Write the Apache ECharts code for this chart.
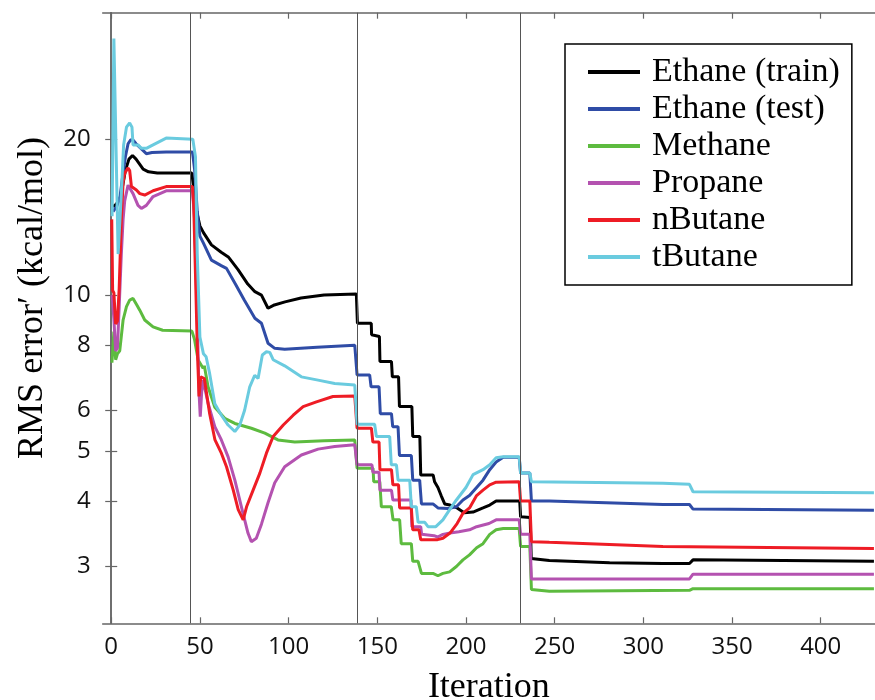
<!DOCTYPE html>
<html>
<head>
<meta charset="utf-8">
<script src="https://cdn.jsdelivr.net/npm/echarts@6/dist/echarts.min.js"></script>
<style>html,body{margin:0;padding:0;background:#fff;}#chart{width:875px;height:700px;}</style>
</head>
<body>
<div id="chart"></div>
<script>
const seriesNames = ['Ethane (train)', 'Ethane (test)', 'Methane', 'Propane', 'nButane', 'tButane'];
const seriesColors = ['#000000', '#2f4ca6', '#5dbb3f', '#b452b0', '#ee1c25', '#6acbdf'];
const xTicks = [0, 50, 100, 150, 200, 250, 300, 350, 400];
const yTicks = [3, 4, 5, 6, 8, 10, 20];
const phaseBoundaries = [44.8, 138.6, 230.6];

// [iteration, RMS error]
const ethaneTrain = [[1,14.8],[3,15.0],[5,15.4],[6.5,16.3],[8,17.4],[10,18.3],[12,18.6],[14,18.3],[16,17.9],[18,17.5],[21,17.3],[26,17.2],[45.5,17.2],[46.5,16.0],[48,14.6],[50,13.6],[52,13.2],[56.5,12.5],[62,12.1],[66,11.85],[71.5,11.2],[77,10.5],[81,10.15],[84.7,10.0],[88.4,9.43],[92,9.57],[98,9.7],[107,9.87],[120,10.0],[138.2,10.05],[138.8,8.82],[146.6,8.82],[146.8,8.38],[151.2,8.32],[151.5,7.44],[158,7.44],[158.5,6.95],[162,6.95],[162.5,6.09],[169.5,6.09],[170,5.33],[174,5.33],[174.5,4.49],[181.5,4.49],[182.3,4.36],[184.2,4.25],[186,4.1],[188,3.95],[191,3.93],[195,3.88],[199,3.8],[204,3.81],[209.6,3.88],[213.4,3.93],[217,4.0],[230.3,4.0],[230.8,3.73],[236.2,3.72],[236.8,3.10],[247,3.07],[281,3.04],[311,3.03],[326,3.03],[328,3.08],[430,3.06]];
const ethaneTest = [[1,14.5],[3,14.8],[5,15.5],[6.5,17.0],[8,18.5],[9.5,19.6],[11,19.95],[12.5,19.9],[14,19.6],[16,19.3],[19.8,18.75],[23,18.85],[31,18.9],[45.8,18.9],[47,17.5],[48.5,14.5],[50,13.0],[52,12.6],[56.5,11.68],[62,11.4],[65,11.26],[70,10.5],[75,9.78],[81,9.02],[84.7,8.82],[88.4,8.07],[92.2,7.89],[97.8,7.86],[116,7.93],[137.3,8.0],[138.6,7.01],[145.7,7.01],[146.5,6.65],[151,6.65],[151.7,5.9],[158,5.9],[158.7,5.57],[161.7,5.57],[162.5,4.9],[169.2,4.9],[170,4.39],[173.9,4.39],[174.9,3.95],[181.4,3.95],[184.2,3.88],[190,3.87],[194.6,3.9],[198.3,4.02],[202,4.1],[206,4.25],[209.6,4.39],[213.4,4.6],[217,4.76],[221,4.86],[230,4.86],[230.8,4.53],[236,4.53],[236.9,4.0],[247,4.0],[311,3.94],[326,3.94],[328,3.86],[430,3.84]];
const methane = [[0.4,7.4],[1.5,8.5],[2.5,7.5],[3.5,7.7],[4.8,7.8],[6.7,8.95],[8.6,9.5],[10.4,9.78],[12.3,9.85],[14.2,9.6],[16.1,9.35],[18.9,8.95],[23.6,8.68],[29,8.55],[45.5,8.52],[47,8.2],[49,7.49],[51.8,7.22],[52.5,7.3],[54.6,6.65],[58.4,6.07],[64,5.78],[69.7,5.65],[79,5.53],[86.6,5.41],[94,5.25],[103.5,5.2],[120,5.23],[137.3,5.25],[138.6,4.63],[147.6,4.63],[148,4.36],[151.4,4.36],[152.3,3.9],[157.9,3.9],[158.9,3.68],[162.6,3.68],[163.5,3.31],[169.2,3.31],[170,3.06],[173,3.06],[174.9,2.9],[181.4,2.9],[184.2,2.87],[187,2.9],[190.8,2.92],[194.6,2.99],[198.3,3.08],[202,3.15],[206,3.25],[209.6,3.31],[213.4,3.45],[217,3.52],[221,3.54],[230,3.54],[230.8,3.27],[236,3.27],[236.9,2.7],[247,2.68],[326,2.69],[328,2.71],[430,2.71]];
const propane = [[0.5,10.0],[1.5,9.0],[2.5,7.8],[3.5,7.9],[4.5,9.5],[5.7,12.0],[6.7,14.0],[7.6,15.2],[9.5,16.3],[10.4,16.4],[12.3,15.7],[15.1,14.9],[17,14.7],[19.8,14.9],[23.6,15.5],[31,15.9],[45.8,15.9],[47,14.0],[48.5,9.0],[49.5,6.5],[50.2,5.82],[51,6.5],[51.8,6.85],[54.6,6.18],[58.4,5.57],[62.1,5.25],[65.9,4.87],[69.7,4.39],[73.4,3.9],[77.1,3.47],[79,3.34],[81.8,3.39],[84.7,3.61],[88.4,3.97],[92.2,4.34],[97.8,4.66],[107.2,4.91],[116.6,5.04],[126,5.1],[137.3,5.14],[138.6,4.7],[147,4.7],[147.5,4.55],[151,4.55],[151.5,4.2],[158,4.2],[158.8,4.02],[169,4.02],[169.5,3.57],[174.5,3.57],[175,3.45],[182,3.43],[184,3.41],[187,3.45],[191,3.47],[196,3.49],[202,3.52],[206,3.57],[213,3.62],[217,3.68],[230,3.68],[230.8,3.45],[236,3.45],[236.9,2.83],[326,2.83],[328,2.89],[430,2.89]];
const nButane = [[0.3,14.0],[0.8,10.2],[1.5,10.1],[2.5,8.8],[3.5,8.9],[4.5,10.3],[5.7,14.0],[6.7,16.5],[7.6,17.2],[9.5,17.6],[10.4,17.4],[11.4,16.2],[14.2,15.95],[16.1,15.7],[18.9,15.6],[23.6,15.9],[31,16.2],[45.8,16.2],[46.5,15.0],[47.5,11.0],[48.5,8.0],[49.5,6.37],[50.5,6.95],[52.5,6.9],[55.5,5.9],[58.5,5.25],[62.1,4.95],[65,4.66],[68.8,4.2],[71.6,3.85],[74.4,3.68],[76.3,3.9],[80,4.2],[83.8,4.53],[87.5,4.95],[91.3,5.33],[97,5.61],[102.6,5.86],[108.2,6.09],[115.7,6.22],[125,6.37],[137.3,6.38],[138.6,5.53],[146.7,5.53],[147.5,5.2],[151,5.2],[151.5,4.6],[158,4.6],[158.8,4.3],[162,4.3],[162.6,3.88],[169.2,3.88],[170,3.52],[173.5,3.52],[174.5,3.37],[184,3.37],[187,3.39],[191,3.47],[195,3.62],[198.3,3.79],[202,3.88],[206,4.1],[209.6,4.2],[213.4,4.3],[217,4.35],[230,4.36],[230.8,4.0],[236,4.0],[236.9,3.34],[247,3.33],[311,3.27],[430,3.24]];
const tButane = [[0.5,14.2],[1.5,31.3],[3.9,12.0],[5.7,15.7],[7,19.5],[8.6,21.1],[10.4,21.5],[11.7,21.1],[12.3,19.5],[15.1,19.5],[17,19.2],[19.8,19.2],[23.6,19.5],[31,20.1],[46,20.0],[47.5,18.5],[48.5,12.0],[50,8.3],[52,7.7],[53.5,7.6],[55.5,7.05],[58.4,6.17],[62.1,5.86],[65.9,5.61],[69.7,5.45],[72.5,5.61],[75.2,5.99],[78.1,6.65],[80.9,7.0],[82.8,6.9],[85.2,7.66],[87.5,7.77],[89.4,7.75],[91.3,7.5],[97.8,7.3],[107.2,6.95],[116.6,6.85],[126,6.75],[137.3,6.7],[138.6,5.63],[148.5,5.63],[149.5,5.33],[157,5.33],[157.9,4.7],[160.8,4.7],[161.7,4.39],[168.3,4.39],[169.2,3.9],[172,3.9],[173,3.64],[176.8,3.64],[178.6,3.57],[183,3.57],[187,3.68],[190.8,3.85],[194.6,4.02],[200,4.25],[204,4.5],[209.6,4.6],[213.4,4.7],[217,4.85],[221,4.87],[230,4.87],[230.8,4.53],[236,4.53],[236.9,4.36],[311,4.33],[326,4.31],[328,4.17],[430,4.15]];

const seriesData = [ethaneTrain, ethaneTest, methane, propane, nButane, tButane];

const X_MIN = -4.8, X_MAX = 430.6, Y_MIN = 2.323, Y_MAX = 35.1;
const tickFont = { fontFamily: '"Open Sans", sans-serif', fontSize: 24, color: '#111' };
const axisLineStyle = { color: '#666', width: 1.5 };
const tickStyle = { show: true, inside: true, length: 6, lineStyle: { color: '#666', width: 1.2 } };

const chart = echarts.init(document.getElementById('chart'), null, { renderer: 'canvas' });

const series = seriesNames.map((name, i) => {
  const s = {
    name: name,
    type: 'line',
    data: seriesData[i],
    showSymbol: false,
    symbol: 'none',
    smooth: false,
    lineStyle: { color: seriesColors[i], width: 3 },
    itemStyle: { color: seriesColors[i] },
    z: 3,
    animation: false
  };
  if (i === 0) {
    s.markLine = {
      silent: true,
      symbol: 'none',
      animation: false,
      label: { show: false },
      lineStyle: { color: '#555', width: 1, type: 'solid' },
      emphasis: { disabled: true },
      data: phaseBoundaries.map(v => ({ xAxis: v }))
    };
  }
  return s;
});

chart.setOption({
  animation: false,
  backgroundColor: '#fff',
  grid: { left: 102.7, top: 12.7, right: 0, bottom: 76.7, containLabel: false, outerBoundsMode: 'none' },
  legend: {
    orient: 'vertical',
    left: 565, top: 44,
    data: seriesNames,
    icon: 'rect',
    itemWidth: 52, itemHeight: 4,
    itemGap: 3,
    padding: [11, 12, 11, 23],
    borderColor: '#000', borderWidth: 1.5,
    backgroundColor: '#fff',
    textStyle: { fontFamily: '"Liberation Serif", "Times New Roman", serif', fontSize: 34, lineHeight: 33, color: '#000', padding: [0, 0, 0, 7] },
    selectedMode: false
  },
  xAxis: [{
    type: 'value', position: 'bottom',
    min: X_MIN, max: X_MAX,
    name: 'Iteration', nameLocation: 'middle', nameGap: 46,
    nameTextStyle: { fontFamily: '"Liberation Serif", "Times New Roman", serif', fontSize: 36, color: '#000' },
    axisLine: { show: true, lineStyle: axisLineStyle },
    axisTick: Object.assign({ customValues: xTicks }, tickStyle),
    axisLabel: Object.assign({ customValues: xTicks, margin: 12 }, tickFont),
    splitLine: { show: false }
  }, {
    type: 'value', position: 'top',
    min: X_MIN, max: X_MAX,
    axisLine: { show: true, lineStyle: axisLineStyle },
    axisTick: Object.assign({ customValues: xTicks }, tickStyle),
    axisLabel: { show: false },
    splitLine: { show: false }
  }],
  yAxis: [{
    type: 'log', logBase: 10, position: 'left',
    min: Y_MIN, max: Y_MAX,
    name: 'RMS error\u2032 (kcal/mol)', nameLocation: 'middle', nameGap: 52,
    nameTextStyle: { fontFamily: '"Liberation Serif", "Times New Roman", serif', fontSize: 36, color: '#000', padding: [0, 0, 0, 40] },
    axisLine: { show: true, lineStyle: axisLineStyle },
    axisTick: Object.assign({ customValues: yTicks }, tickStyle),
    axisLabel: Object.assign({ customValues: yTicks, margin: 12 }, tickFont),
    splitLine: { show: false }
  }, {
    type: 'log', logBase: 10, position: 'right',
    min: Y_MIN, max: Y_MAX,
    axisLine: { show: true, lineStyle: axisLineStyle },
    axisTick: Object.assign({ customValues: yTicks }, tickStyle),
    axisLabel: { show: false },
    splitLine: { show: false }
  }],
  series: series
});
</script>
</body>
</html>
